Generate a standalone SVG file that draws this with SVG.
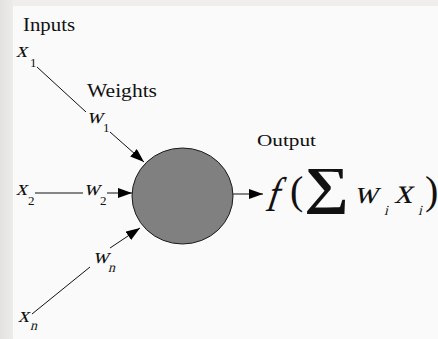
<svg xmlns="http://www.w3.org/2000/svg" width="438" height="339" viewBox="0 0 438 339">
  <defs>
    <marker id="arrow" markerUnits="userSpaceOnUse" markerWidth="14" markerHeight="10" refX="14" refY="5" orient="auto">
      <path d="M0,0 L14,5 L0,10 z" fill="#000"/>
    </marker>
    <linearGradient id="leftStrip" x1="0" y1="0" x2="1" y2="0">
      <stop offset="0" stop-color="#e4e2e0"/>
      <stop offset="1" stop-color="#eeecea"/>
    </linearGradient>
  </defs>
  <style>
    .lbl { font-family: "Liberation Serif", "DejaVu Serif", serif; fill: #111; }
    .var { font-family: "Liberation Serif", "DejaVu Serif", serif; fill: #111; }
    .sub { font-family: "Liberation Serif", "DejaVu Serif", serif; fill: #111; }
    .conn { stroke: #111; stroke-width: 1; fill: none; }
  </style>
  <rect x="0" y="0" width="438" height="339" fill="#fafafa"/>
  <rect x="0" y="0" width="13" height="339" fill="url(#leftStrip)"/>
  <rect x="13" y="0" width="425" height="6" fill="#f0eeec"/>

  <g id="connectors">
    <line class="conn" x1="37" y1="67" x2="86" y2="112"/>
    <line class="conn" x1="110" y1="132" x2="144" y2="162" marker-end="url(#arrow)"/>
    <line class="conn" x1="35" y1="193" x2="83" y2="193"/>
    <line class="conn" x1="107" y1="193" x2="132" y2="193" marker-end="url(#arrow)"/>
    <line class="conn" x1="32" y1="314" x2="90" y2="267"/>
    <line class="conn" x1="110" y1="248" x2="140" y2="228" marker-end="url(#arrow)"/>
    <line class="conn" x1="233" y1="194" x2="263" y2="194" marker-end="url(#arrow)"/>
  </g>

  <g id="inputs-label">
    <text class="lbl" x="23" y="31" font-size="19" textLength="52" lengthAdjust="spacingAndGlyphs">Inputs</text>
  </g>
  <g id="weights-label">
    <text class="lbl" x="87" y="97" font-size="19" textLength="70" lengthAdjust="spacingAndGlyphs">Weights</text>
  </g>
  <g id="output-label">
    <text class="lbl" x="257" y="146" font-size="17" textLength="59" lengthAdjust="spacingAndGlyphs">Output</text>
  </g>

  <g id="x1">
    <text class="var" transform="translate(16,57) skewX(-14)" font-size="22">x</text>
    <text class="sub" x="30" y="67" font-size="13">1</text>
  </g>
  <g id="x2">
    <text class="var" transform="translate(16,195) skewX(-14)" font-size="22">x</text>
    <text class="sub" x="28" y="205" font-size="13">2</text>
  </g>
  <g id="xn">
    <text class="var" transform="translate(18,322) skewX(-14)" font-size="22">x</text>
    <text class="var" transform="translate(30,330) skewX(-14)" font-size="14">n</text>
  </g>

  <g id="w1">
    <text class="var" transform="translate(87,123) skewX(-14)" font-size="22">w</text>
    <text class="sub" x="103" y="132" font-size="13">1</text>
  </g>
  <g id="w2">
    <text class="var" transform="translate(84,195) skewX(-14)" font-size="22">w</text>
    <text class="sub" x="100" y="205" font-size="13">2</text>
  </g>
  <g id="wn">
    <text class="var" transform="translate(93,263) skewX(-14)" font-size="22">w</text>
    <text class="var" transform="translate(108,272) skewX(-14)" font-size="14">n</text>
  </g>

  <g id="neuron">
    <ellipse cx="182.5" cy="196" rx="50.5" ry="48" fill="#808080" stroke="#1a1a1a" stroke-width="1"/>
  </g>

  <g id="output-formula">
    <text class="var" transform="translate(264,211) skewX(-18) scale(1.0,1.35)" font-size="36">f</text>
    <text class="lbl" x="290" y="204" font-size="40">(</text>
    <text class="lbl" transform="translate(304,203) scale(1.2,1)" font-size="52" font-weight="bold">∑</text>
    <text class="var" transform="translate(354,203) skewX(-14)" font-size="33">w</text>
    <text class="var" transform="translate(384,215) skewX(-14)" font-size="14">i</text>
    <text class="var" transform="translate(394,203) skewX(-14)" font-size="36">x</text>
    <text class="var" transform="translate(418,215) skewX(-14)" font-size="14">i</text>
    <text class="lbl" x="425" y="204" font-size="40">)</text>
  </g>
</svg>
